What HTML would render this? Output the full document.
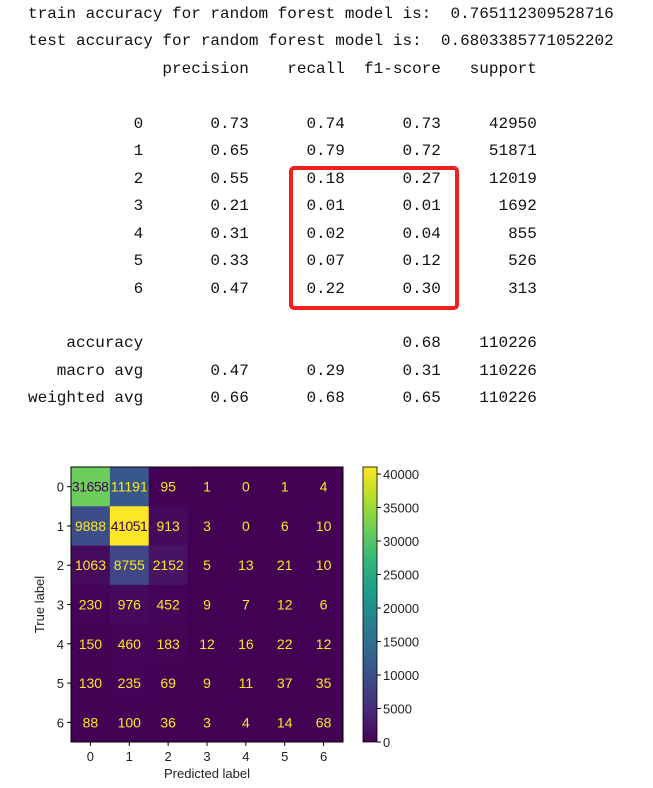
<!DOCTYPE html>
<html><head><meta charset="utf-8"><style>
body{margin:0;width:653px;height:788px;background:#fff;overflow:hidden;position:relative;font-family:"Liberation Sans",sans-serif}
pre{position:absolute;left:28px;top:1px;margin:0;font-family:"Liberation Mono",monospace;font-size:16px;line-height:27.45px;color:#111}
#box{position:absolute;left:289px;top:166px;width:162px;height:136px;border:4px solid #f0201a;border-radius:5px;box-sizing:content-box}
</style></head><body>
<pre>train accuracy for random forest model is:  0.765112309528716
test accuracy for random forest model is:  0.6803385771052202
              precision    recall  f1-score   support

           0       0.73      0.74      0.73     42950
           1       0.65      0.79      0.72     51871
           2       0.55      0.18      0.27     12019
           3       0.21      0.01      0.01      1692
           4       0.31      0.02      0.04       855
           5       0.33      0.07      0.12       526
           6       0.47      0.22      0.30       313

    accuracy                           0.68    110226
   macro avg       0.47      0.29      0.31    110226
weighted avg       0.66      0.68      0.65    110226</pre>
<div id="box"></div>
<svg id="cm" width="653" height="788" style="position:absolute;left:0;top:0"></svg>
<script>
const labels=[0,1,2,3,4,5,6];
const row0=[31658,11191,95,1,0,1,4];
const row1=[9888,41051,913,3,0,6,10];
const row2=[1063,8755,2152,5,13,21,10];
const row3=[230,976,452,9,7,12,6];
const row4=[150,460,183,12,16,22,12];
const row5=[130,235,69,9,11,37,35];
const row6=[88,100,36,3,4,14,68];
const matrix=[row0,row1,row2,row3,row4,row5,row6];
const cbTicks=[0,5000,10000,15000,20000,25000,30000,35000,40000];

const NS="http://www.w3.org/2000/svg";
const svg=document.getElementById('cm');
const X0=71,X1=343,Y0=467,Y1=742;
const n=labels.length,cw=(X1-X0)/n,ch=(Y1-Y0)/n;
let vmax=0,vmin=Infinity;matrix.forEach(r=>r.forEach(v=>{vmax=Math.max(vmax,v);vmin=Math.min(vmin,v);}));
const stops=[[68,1,84],[72,40,120],[62,73,137],[49,104,142],[38,130,142],[31,158,137],[53,183,121],[110,206,88],[181,222,43],[253,231,37]];
function vir(t){t=Math.max(0,Math.min(1,t));const p=t*(stops.length-1),i=Math.min(Math.floor(p),stops.length-2),f=p-i;
const c=stops[i].map((a,k)=>Math.round(a+(stops[i+1][k]-a)*f));return `rgb(${c})`;}
function el(tag,attrs,parent){const e=document.createElementNS(NS,tag);for(const k in attrs)e.setAttribute(k,attrs[k]);(parent||svg).appendChild(e);return e;}
const xs=i=>X0+i*cw, ys=i=>Y0+i*ch;
const thr=(vmax+vmin)/2;
matrix.forEach((r,i)=>r.forEach((v,j)=>{
  const c=el('rect',{x:xs(j),y:ys(i),width:cw+0.5,height:ch+0.5,fill:vir(v/vmax)});
  
  
  const t=el('text',{x:xs(j)+cw/2,y:ys(i)+ch/2+5,'text-anchor':'middle','font-size':'14',fill:v>thr?vir(0):vir(1),textLength:String(v).length>=5?37:'' });
  if(String(v).length<5)t.removeAttribute('textLength');
  t.textContent=v;
  
  
}));
const fr=el('rect',{x:X0,y:Y0,width:X1-X0,height:Y1-Y0,fill:'none',stroke:'#000','stroke-width':1});


labels.forEach((l,i)=>{
  el('line',{x1:xs(i)+cw/2,x2:xs(i)+cw/2,y1:Y1,y2:Y1+4,stroke:'#000'});
  const tx=el('text',{x:xs(i)+cw/2,y:Y1+19,'text-anchor':'middle','font-size':'13',fill:'#222'});tx.textContent=l;
  
  
  el('line',{x1:X0-4,x2:X0,y1:ys(i)+ch/2,y2:ys(i)+ch/2,stroke:'#000'});
  const ty=el('text',{x:X0-7,y:ys(i)+ch/2+5,'text-anchor':'end','font-size':'13',fill:'#222'});ty.textContent=l;
  
  
});
const xt=el('text',{x:(X0+X1)/2,y:778,'text-anchor':'middle','font-size':'13',fill:'#222'});xt.textContent='Predicted label';


const yt=el('text',{x:0,y:0,'text-anchor':'middle','font-size':'13',fill:'#222',transform:`translate(44,${(Y0+Y1)/2}) rotate(-90)`});yt.textContent='True label';


// colorbar
const CX=363,CW=14;
const defs=el('defs',{});
const g=el('linearGradient',{id:'vg',x1:0,y1:1,x2:0,y2:0},defs);
stops.forEach((s,i)=>el('stop',{offset:i/(stops.length-1),'stop-color':`rgb(${s})`},g));
const cb=el('rect',{x:CX,y:Y0,width:CW,height:Y1-Y0,fill:'url(#vg)',stroke:'#000','stroke-width':0.8});


const cy=v=>Y1-(v-vmin)/(vmax-vmin)*(Y1-Y0);
cbTicks.forEach(v=>{
  el('line',{x1:CX+CW,x2:CX+CW+4,y1:cy(v),y2:cy(v),stroke:'#000'});
  const t=el('text',{x:CX+CW+6,y:cy(v)+5,'font-size':'13',fill:'#222'});t.textContent=v;
  
  
});
</script>
</body></html>
